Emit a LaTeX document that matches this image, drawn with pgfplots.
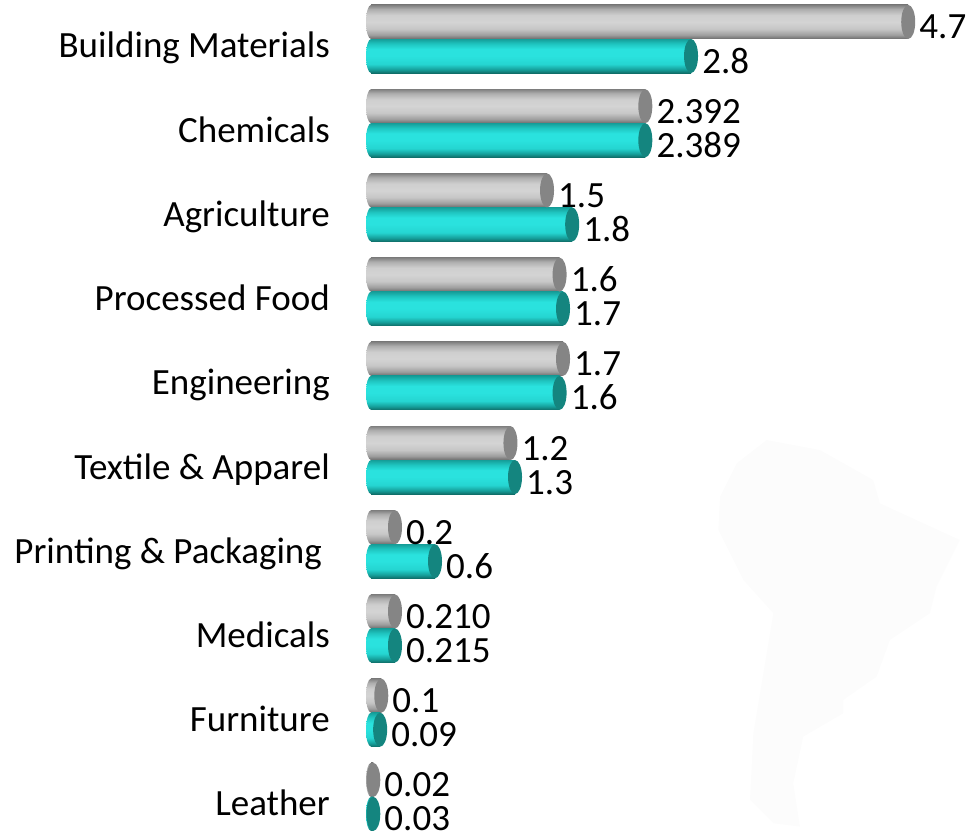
\documentclass[border=0pt]{standalone}
\usepackage{pgfplots}
\usepackage{pgfplotstable}
\usepackage{fontspec}
\setmainfont{Carlito}
\pgfplotsset{compat=1.18}
\pgfdeclareverticalshading{graybar}{100bp}{color(0bp)=(black!58);color(25bp)=(black!58);color(31bp)=(black!38);color(40bp)=(black!22);color(50bp)=(black!17);color(60bp)=(black!19);color(69bp)=(black!32);color(75bp)=(black!50);color(100bp)=(black!50)}
\definecolor{tealA}{HTML}{0F6E69}
\definecolor{tealB}{HTML}{1FC5C0}
\definecolor{tealC}{HTML}{2AE2DE}
\definecolor{tealD}{HTML}{159E99}
\definecolor{tealE}{HTML}{25D5D1}
\definecolor{capGray}{HTML}{858585}
\definecolor{capTeal}{HTML}{14857F}
\definecolor{mapFaint}{HTML}{FCFCFC}
\pgfdeclareverticalshading{tealbar}{100bp}{color(0bp)=(tealA);color(25bp)=(tealA);color(30bp)=(tealD);color(38bp)=(tealE);color(50bp)=(tealC);color(60bp)=(tealC);color(68bp)=(tealB);color(75bp)=(tealD);color(100bp)=(tealD)}
\pgfdeclareplotmark{capgray}{\pgfpathellipse{\pgfpointorigin}{\pgfpoint{7pt}{0pt}}{\pgfpoint{0pt}{17pt}}\pgfsetfillcolor{capGray}\pgfusepath{fill}}
\pgfdeclareplotmark{capteal}{\pgfpathellipse{\pgfpointorigin}{\pgfpoint{7pt}{0pt}}{\pgfpoint{0pt}{17pt}}\pgfsetfillcolor{capTeal}\pgfusepath{fill}}
\pgfdeclareplotmark{leftgray}{\pgfpathellipse{\pgfpointorigin}{\pgfpoint{5pt}{0pt}}{\pgfpoint{0pt}{17pt}}\pgfshadepath{graybar}{0}\pgfusepath{discard}}
\pgfdeclareplotmark{leftteal}{\pgfpathellipse{\pgfpointorigin}{\pgfpoint{5pt}{0pt}}{\pgfpoint{0pt}{17pt}}\pgfshadepath{tealbar}{0}\pgfusepath{discard}}
\pgfplotstableread{
y v label z
-0.202 4.70 4.7 0
0.798 2.40 2.392 0
1.798 1.54 1.5 0
2.798 1.65 1.6 0
3.798 1.68 1.7 0
4.798 1.22 1.2 0
5.798 0.21 0.2 0
6.798 0.21 0.210 0
7.798 0.09 0.1 0
8.798 0.02 0.02 0
}\graydata
\pgfplotstableread{
y v label z
0.202 2.80 2.8 0
1.202 2.40 2.389 0
2.202 1.76 1.8 0
3.202 1.68 1.7 0
4.202 1.65 1.6 0
5.202 1.26 1.3 0
6.202 0.56 0.6 0
7.202 0.21 0.215 0
8.202 0.08 0.09 0
9.202 0.02 0.03 0
}\tealdata
\begin{document}
\begin{tikzpicture}
\begin{scope}[xshift=500pt, yshift=436pt, x=0.3333pt, y=-0.3333pt]
\fill[mapFaint] (710,190)--(800,120)--(960,150)--(1120,240)--(1140,310)--(1380,420)--(1310,560)--(1290,640)--(1170,720)--(1130,830)--(1030,900)--(1030,940)--(910,1010)--(880,1150)--(900,1280)--(820,1270)--(750,1200)--(760,1000)--(820,640)--(730,540)--(655,390)--(660,290)--cycle;
\end{scope}
\begin{axis}[
  at={(0pt,0pt)}, anchor=south west,
  scale only axis, width=968pt, height=836pt,
  xmin=-3.2458, xmax=5.2231,
  ymin=-0.463, ymax=9.465, y dir=reverse,
  axis line style={draw=none}, xtick=\empty,
  tick style={draw=none},
  ytick={0,1,2,3,4,5,6,7,8,9},
  yticklabels={Building Materials,Chemicals,Agriculture,Processed Food,Engineering,Textile \& Apparel,Printing \& Packaging\kern8pt,Medicals,Furniture,Leather},
  yticklabel style={anchor=base east, xshift=330pt, yshift=-19pt, font=\fontsize{37}{40}\selectfont, inner sep=0pt},
  every node near coord/.append style={anchor=base west, xshift=11pt, yshift=-17pt, font=\fontsize{37}{40}\selectfont, inner sep=0pt, text=black},
  gb/.style={xbar, bar width=34pt, bar shift=0pt, draw=none, shading=graybar},
  tb/.style={xbar, bar width=34pt, bar shift=0pt, draw=none, shading=tealbar},
  clip=false,
]
\addplot[gb] coordinates {(4.70,-0.202)};
\addplot[gb] coordinates {(2.40,0.798)};
\addplot[gb] coordinates {(1.54,1.798)};
\addplot[gb] coordinates {(1.65,2.798)};
\addplot[gb] coordinates {(1.68,3.798)};
\addplot[gb] coordinates {(1.22,4.798)};
\addplot[gb] coordinates {(0.21,5.798)};
\addplot[gb] coordinates {(0.21,6.798)};
\addplot[gb] coordinates {(0.09,7.798)};
\addplot[gb] coordinates {(0.02,8.798)};
\addplot[only marks, mark=leftgray] table[x=z,y=y] {\graydata};
\addplot[only marks, mark=capgray, point meta=explicit symbolic, nodes near coords] table[x=v,y=y,meta=label] {\graydata};
\addplot[tb] coordinates {(2.80,0.202)};
\addplot[tb] coordinates {(2.40,1.202)};
\addplot[tb] coordinates {(1.76,2.202)};
\addplot[tb] coordinates {(1.68,3.202)};
\addplot[tb] coordinates {(1.65,4.202)};
\addplot[tb] coordinates {(1.26,5.202)};
\addplot[tb] coordinates {(0.56,6.202)};
\addplot[tb] coordinates {(0.21,7.202)};
\addplot[tb] coordinates {(0.08,8.202)};
\addplot[tb] coordinates {(0.02,9.202)};
\addplot[only marks, mark=leftteal] table[x=z,y=y] {\tealdata};
\addplot[only marks, mark=capteal, point meta=explicit symbolic, nodes near coords] table[x=v,y=y,meta=label] {\tealdata};
\end{axis}
\end{tikzpicture}
\end{document}
